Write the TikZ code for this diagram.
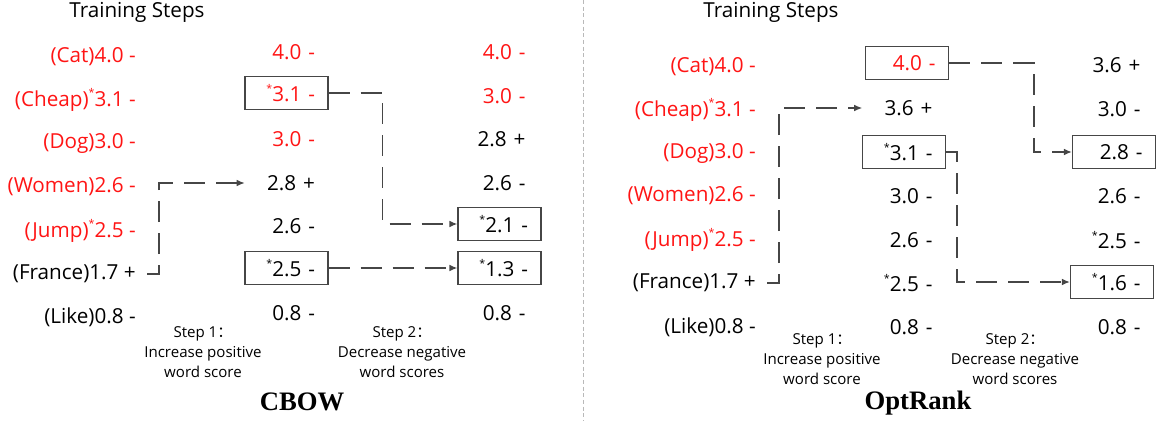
\documentclass[tikz,border=0pt]{standalone}
\usepackage{fontspec}
\setmainfont{Open Sans}
\newfontfamily\cjk{Noto Sans CJK SC}
\newfontfamily\titlefont{Liberation Serif}
\usetikzlibrary{arrows.meta}
\definecolor{hotred}{RGB}{255,20,20}
\definecolor{inkgray}{RGB}{70,70,70}
\newcommand{\sstar}{\raisebox{0.85ex}{\fontsize{8}{8}\selectfont *}}

\begin{document}
\begin{tikzpicture}[
      x=0.75pt, y=-0.75pt,
      word/.style={
        anchor=east,
        inner xsep=8.25pt,
        font=\fontsize{15.5}{18}\selectfont
      },
      score/.style={
        text width=42.75pt,
        align=right,
        inner xsep=9.75pt,
        minimum height=24.75pt,
        font=\fontsize{15.5}{18}\selectfont
      },
      chosen/.style={score, draw=inkgray, line width=0.9pt},
      hot/.style={text=hotred},
      flow/.style={
        draw=inkgray,
        line width=1pt,
        dash pattern=on 16pt off 8pt,
        -{Latex[length=6pt,width=5pt]}
      },
      note/.style={align=center, font=\fontsize{11.3}{15}\selectfont},
      heading/.style={font=\fontsize{15.5}{18}\selectfont},
      caption/.style={font=\titlefont\bfseries\fontsize{20}{24}\selectfont}
    ]
    \useasboundingbox (0,0) rectangle (1158,421);

    % divider
    \draw[gray!55, line width=0.6pt, dash pattern=on 3pt off 2pt] (583,0) -- (583,421);

    % CBOW: nodes
    \node[heading] (cstep) at (137,12) {Training Steps};

    \node[word, hot] (cw1) at (147,57) {(Cat)4.0 -};
    \node[word, hot] (cw2) at (147,100) {(Cheap)\sstar3.1 -};
    \node[word, hot] (cw3) at (147,143) {(Dog)3.0 -};
    \node[word, hot] (cw4) at (147,187) {(Women)2.6 -};
    \node[word, hot] (cw5) at (147,231) {(Jump)\sstar2.5 -};
    \node[word] (cw6) at (147,274) {(France)1.7 +};
    \node[word] (cw7) at (147,317) {(Like)0.8 -};

    \node[score, hot] (ca1) at (286.5,52) {4.0 -};
    \node[chosen, hot] (ca2) at (286.5,93) {\sstar3.1 -};
    \node[score, hot] (ca3) at (286.5,139) {3.0 -};
    \node[score] (ca4) at (286.5,183) {2.8 +};
    \node[score] (ca5) at (286.5,226) {2.6 -};
    \node[chosen] (ca6) at (286.5,268) {\sstar2.5 -};
    \node[score] (ca7) at (286.5,313) {0.8 -};

    \node[score, hot] (cb1) at (497,52) {4.0 -};
    \node[score, hot] (cb2) at (497,96) {3.0 -};
    \node[score] (cb3) at (497,139) {2.8 +};
    \node[score] (cb4) at (497,183) {2.6 -};
    \node[chosen] (cb5) at (499.5,224) {\sstar2.1 -};
    \node[chosen] (cb6) at (499.5,268) {\sstar1.3 -};
    \node[score] (cb7) at (497,313) {0.8 -};

    \node[note] (cnote1) at (203,352) {Step 1{\cjk ：}\\Increase positive\\word score};
    \node[note] (cnote2) at (402,352) {Step 2{\cjk ：}\\Decrease negative\\word scores};
    \node[caption] (cname) at (302,402) {CBOW};

    % CBOW: arrows
    \draw[flow] (cw6.east) -- ++(12,0) |- (ca4.west);
    \draw[flow] (ca2.east) -- ++(54,0) |- (cb5.west);
    \draw[flow] (ca6.east) -- (cb6.west);

    % OptRank: nodes
    \node[heading] (ostep) at (771,12) {Training Steps};

    \node[word, hot] (ow1) at (767,67) {(Cat)4.0 -};
    \node[word, hot] (ow2) at (767,110) {(Cheap)\sstar3.1 -};
    \node[word, hot] (ow3) at (767,153) {(Dog)3.0 -};
    \node[word, hot] (ow4) at (767,196) {(Women)2.6 -};
    \node[word, hot] (ow5) at (767,240) {(Jump)\sstar2.5 -};
    \node[word] (ow6) at (767,283) {(France)1.7 +};
    \node[word] (ow7) at (767,327) {(Like)0.8 -};

    \node[chosen, hot] (oa1) at (907,63) {4.0 -};
    \node[score] (oa2) at (904,108) {3.6 +};
    \node[chosen] (oa3) at (904,152) {\sstar3.1 -};
    \node[score] (oa4) at (904,196) {3.0 -};
    \node[score] (oa5) at (904,240) {2.6 -};
    \node[score] (oa6) at (904,283) {\sstar2.5 -};
    \node[score] (oa7) at (904,327) {0.8 -};

    \node[score] (ob1) at (1112,65) {3.6 +};
    \node[score] (ob2) at (1112,109) {3.0 -};
    \node[chosen] (ob3) at (1114,152) {2.8 -};
    \node[score] (ob4) at (1112,196) {2.6 -};
    \node[score] (ob5) at (1112,240) {\sstar2.5 -};
    \node[chosen] (ob6) at (1112,282) {\sstar1.6 -};
    \node[score] (ob7) at (1112,327) {0.8 -};

    \node[note] (onote1) at (822,359) {Step 1{\cjk ：}\\Increase positive\\word score};
    \node[note] (onote2) at (1015,359) {Step 2{\cjk ：}\\Decrease negative\\word scores};
    \node[caption] (oname) at (918,403) {OptRank};

    % OptRank: arrows
    \draw[flow] (ow6.east) -- ++(12,0) |- (oa2.west);
    \draw[flow] (oa1.east) -- ++(85,0) |- (ob3.west);
    \draw[flow] (oa3.east) -- ++(11,0) |- (ob6.west);
  \end{tikzpicture}
\end{document}
